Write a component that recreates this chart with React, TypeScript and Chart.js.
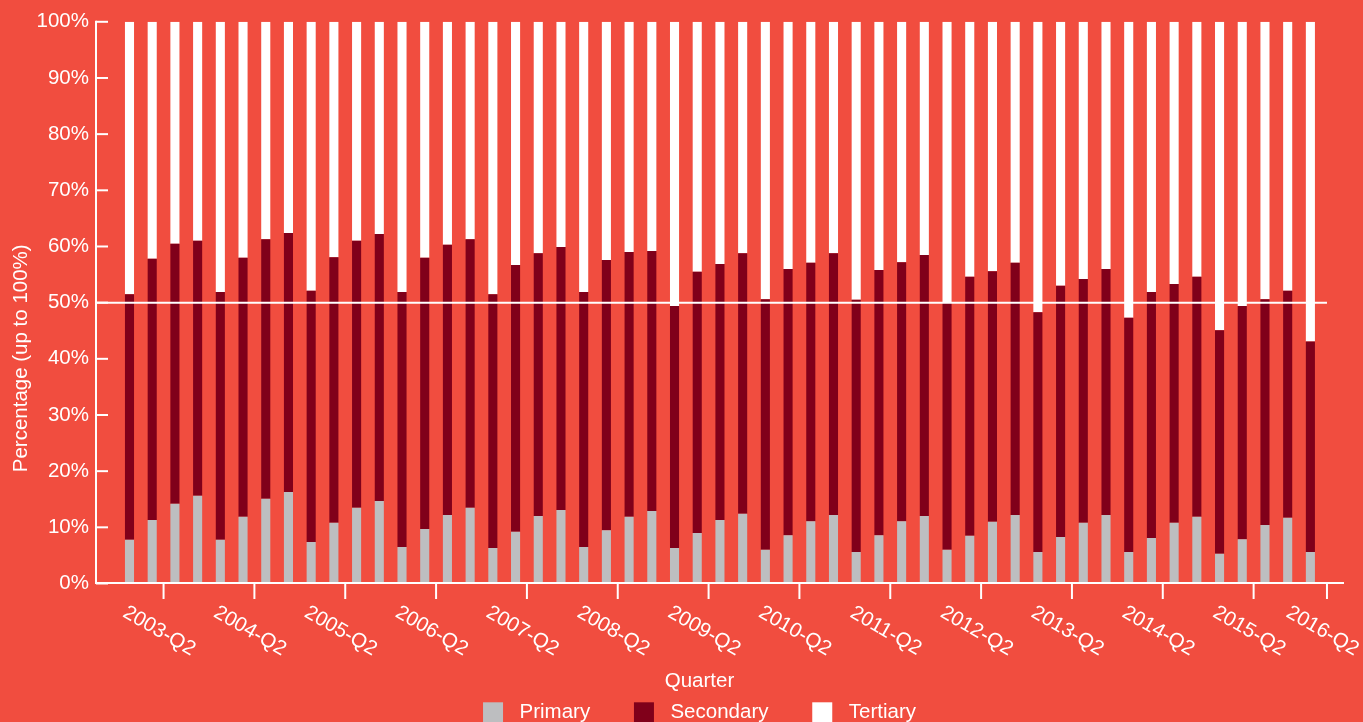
import React, { useEffect, useRef } from 'react';
import { Chart, registerables } from 'chart.js';

Chart.register(...registerables);

// Quarters covered by the bars (one bar per quarter)
const quarters = [
  '2003-Q1', '2003-Q2', '2003-Q3', '2003-Q4',
  '2004-Q1', '2004-Q2', '2004-Q3', '2004-Q4',
  '2005-Q1', '2005-Q2', '2005-Q3', '2005-Q4',
  '2006-Q1', '2006-Q2', '2006-Q3', '2006-Q4',
  '2007-Q1', '2007-Q2', '2007-Q3', '2007-Q4',
  '2008-Q1', '2008-Q2', '2008-Q3', '2008-Q4',
  '2009-Q1', '2009-Q2', '2009-Q3', '2009-Q4',
  '2010-Q1', '2010-Q2', '2010-Q3', '2010-Q4',
  '2011-Q1', '2011-Q2', '2011-Q3', '2011-Q4',
  '2012-Q1', '2012-Q2', '2012-Q3', '2012-Q4',
  '2013-Q1', '2013-Q2', '2013-Q3', '2013-Q4',
  '2014-Q1', '2014-Q2', '2014-Q3', '2014-Q4',
  '2015-Q1', '2015-Q2', '2015-Q3', '2015-Q4',
  '2016-Q1',
];

// Sector shares, percent of the quarter total
const primary = [
  7.8, 11.3, 14.2, 15.6, 7.8, 11.9, 15.1, 16.3, 7.4, 10.8, 13.5, 14.7,
  6.5, 9.7, 12.2, 13.5, 6.3, 9.2, 12.0, 13.1, 6.5, 9.5, 11.9, 12.9,
  6.3, 9.0, 11.3, 12.4, 6.0, 8.6, 11.1, 12.2, 5.6, 8.6, 11.1, 12.0,
  6.0, 8.5, 11.0, 12.2, 5.6, 8.3, 10.8, 12.2, 5.6, 8.1, 10.8, 11.9,
  5.3, 7.9, 10.4, 11.7, 5.6,
];
const secondary = [
  43.7, 46.5, 46.3, 45.4, 44.1, 46.1, 46.2, 46.1, 44.7, 47.3, 47.5, 47.5,
  45.4, 48.3, 48.1, 47.8, 45.2, 47.5, 46.8, 46.8, 45.4, 48.1, 47.1, 46.3,
  43.1, 46.5, 45.6, 46.4, 44.6, 47.4, 46.0, 46.6, 44.9, 47.2, 46.1, 46.5,
  44.1, 46.1, 44.6, 44.9, 42.7, 44.7, 43.4, 43.8, 41.7, 43.8, 42.5, 42.7,
  39.8, 41.5, 40.2, 40.4, 37.5,
];
const tertiary = [
  48.5, 42.2, 39.5, 39.0, 48.1, 42.0, 38.7, 37.6, 47.9, 41.9, 39.0, 37.8,
  48.1, 42.0, 39.7, 38.7, 48.5, 43.3, 41.2, 40.1, 48.1, 42.4, 41.0, 40.8,
  50.6, 44.5, 43.1, 41.2, 49.4, 44.0, 42.9, 41.2, 49.5, 44.2, 42.8, 41.5,
  49.9, 45.4, 44.4, 42.9, 51.7, 47.0, 45.8, 44.0, 52.7, 48.1, 46.7, 45.4,
  54.9, 50.6, 49.4, 47.9, 56.9,
];

// Labelled x-axis ticks, given in bar-index units
const xTickLabels = [
  '2003-Q2', '2004-Q2', '2005-Q2', '2006-Q2', '2007-Q2', '2008-Q2', '2009-Q2',
  '2010-Q2', '2011-Q2', '2012-Q2', '2013-Q2', '2014-Q2', '2015-Q2', '2016-Q2',
];
const xTickPositions = [
  1.5, 5.5, 9.5, 13.5, 17.5, 21.5, 25.5, 29.5, 33.5, 37.5, 41.5, 45.5, 49.5, 52.73,
];
const yTickValues = [0, 10, 20, 30, 40, 50, 60, 70, 80, 90, 100];
const referenceLevel = 50;

const seriesNames = ['Primary', 'Secondary', 'Tertiary'];
const seriesColors = ['#BDBEC0', '#80001A', '#FFFFFF'];

const BG = '#F14D3F';
const INK = '#FFFFFF';
const FONT = '"Liberation Sans", Arial, sans-serif';
const FONT_SIZE = 20.5;
const CANVAS_W = 1363;
const CANVAS_H = 740;
const PLOT_TOP = 21.8;
const PLOT_BOTTOM = 583.5;
const PLOT_LEFT = 96;
const PLOT_RIGHT = 1344;
const CAPTION_CENTER_X = 699.5;

const strokeLine = (ctx: CanvasRenderingContext2D, x1: number, y1: number, x2: number, y2: number) => {
  ctx.beginPath();
  ctx.moveTo(x1, y1);
  ctx.lineTo(x2, y2);
  ctx.stroke();
};

// Axis lines, inward/outward tick marks, rotated quarter labels, titles and legend
const decorations = {
  id: 'decorations',
  afterDatasetsDraw(chart: any) {
    const { ctx, chartArea } = chart;
    const xs = chart.scales.x;
    const ys = chart.scales.y;
    ctx.save();
    ctx.strokeStyle = INK;
    ctx.lineWidth = 2;

    // 50% reference line over the bars
    const yRef = ys.getPixelForValue(referenceLevel);
    const xRefEnd = xs.getPixelForValue(xTickPositions[xTickPositions.length - 1]);
    strokeLine(ctx, chartArea.left, yRef, xRefEnd, yRef);

    // axis lines
    const axisY = chartArea.bottom - 0.5;
    strokeLine(ctx, chartArea.left - 1, axisY, chartArea.right, axisY);
    strokeLine(ctx, chartArea.left, chartArea.top - 1, chartArea.left, axisY + 1);

    // y ticks point into the plot
    yTickValues.forEach((v) => {
      const py = ys.getPixelForValue(v);
      strokeLine(ctx, chartArea.left, py, chartArea.left + 12, py);
    });

    // x ticks point down
    xs.ticks.forEach((t: any) => {
      const px = xs.getPixelForValue(t.value);
      strokeLine(ctx, px, axisY, px, axisY + 16);
    });

    ctx.fillStyle = INK;
    ctx.font = `${FONT_SIZE}px ${FONT}`;
    ctx.textAlign = 'center';
    ctx.textBaseline = 'middle';

    // rotated quarter labels
    xs.ticks.forEach((t: any, i: number) => {
      const px = xs.getPixelForValue(t.value);
      ctx.save();
      ctx.translate(px - 4.5, chartArea.bottom + 47.5);
      ctx.rotate(Math.PI / 6);
      ctx.fillText(xTickLabels[i], 0, 0);
      ctx.restore();
    });

    // y-axis title
    ctx.save();
    ctx.translate(21, 358.3);
    ctx.rotate(-Math.PI / 2);
    ctx.fillText('Percentage (up to 100%)', 0, 0);
    ctx.restore();

    // x-axis title
    ctx.textBaseline = 'alphabetic';
    ctx.fillText('Quarter', CAPTION_CENTER_X, chartArea.bottom + 103.5);

    // legend
    const box = 20;
    const boxGap = 16.5;
    const itemGap = 43.8;
    const widths = seriesNames.map((n) => ctx.measureText(n).width);
    const total = widths.reduce((a, w) => a + box + boxGap + w, 0) + itemGap * (seriesNames.length - 1);
    let lx = CAPTION_CENTER_X - total / 2;
    const boxTop = chartArea.bottom + 118.8;
    const textBase = chartArea.bottom + 134.5;
    ctx.textAlign = 'left';
    seriesNames.forEach((name, i) => {
      ctx.fillStyle = seriesColors[i];
      ctx.fillRect(lx, boxTop, box, box);
      ctx.fillStyle = INK;
      ctx.fillText(name, lx + box + boxGap, textBase);
      lx += box + boxGap + widths[i] + itemGap;
    });

    ctx.restore();
  },
};

export default function App() {
  const canvasRef = useRef<HTMLCanvasElement>(null);

  useEffect(() => {
    const canvas = canvasRef.current;
    if (!canvas) return;
    const series = [primary, secondary, tertiary];
    const chart = new Chart(canvas, {
      type: 'bar',
      data: {
        datasets: series.map((values, s) => ({
          label: seriesNames[s],
          data: quarters.map((q, i) => ({ x: i, y: values[i] })),
          backgroundColor: seriesColors[s],
          borderWidth: 0,
          barPercentage: 0.4,
          categoryPercentage: 1,
        })),
      },
      options: {
        responsive: false,
        animation: false,
        events: [],
        layout: {
          padding: { top: PLOT_TOP, right: CANVAS_W - PLOT_RIGHT, bottom: 0, left: 0 },
        },
        plugins: {
          legend: { display: false },
          tooltip: { enabled: false },
          title: { display: false },
        },
        scales: {
          x: {
            type: 'linear',
            stacked: true,
            offset: false,
            bounds: 'data',
            min: -1.475,
            max: 53.48,
            grid: { display: false, drawTicks: false, offset: false },
            border: { display: false },
            ticks: { display: false },
            afterBuildTicks: (scale: any) => {
              scale.ticks = xTickPositions.map((value) => ({ value }));
            },
            afterFit: (scale: any) => {
              scale.height = CANVAS_H - PLOT_BOTTOM;
            },
          },
          y: {
            type: 'linear',
            stacked: true,
            min: 0,
            max: 100,
            grid: { display: false, drawTicks: false },
            border: { display: false },
            ticks: {
              stepSize: 10,
              padding: 7,
              color: INK,
              font: { family: FONT, size: FONT_SIZE },
              callback: (v: any) => `${v}%`,
            },
            afterFit: (scale: any) => {
              scale.width = PLOT_LEFT;
            },
          },
        },
      } as any,
      plugins: [decorations],
    });
    return () => chart.destroy();
  }, []);

  return (
    <div
      style={{
        position: 'fixed',
        left: 0,
        top: 0,
        width: CANVAS_W,
        height: 722,
        overflow: 'hidden',
        background: BG,
      }}
    >
      <canvas ref={canvasRef} width={CANVAS_W} height={CANVAS_H} style={{ display: 'block' }} />
    </div>
  );
}
